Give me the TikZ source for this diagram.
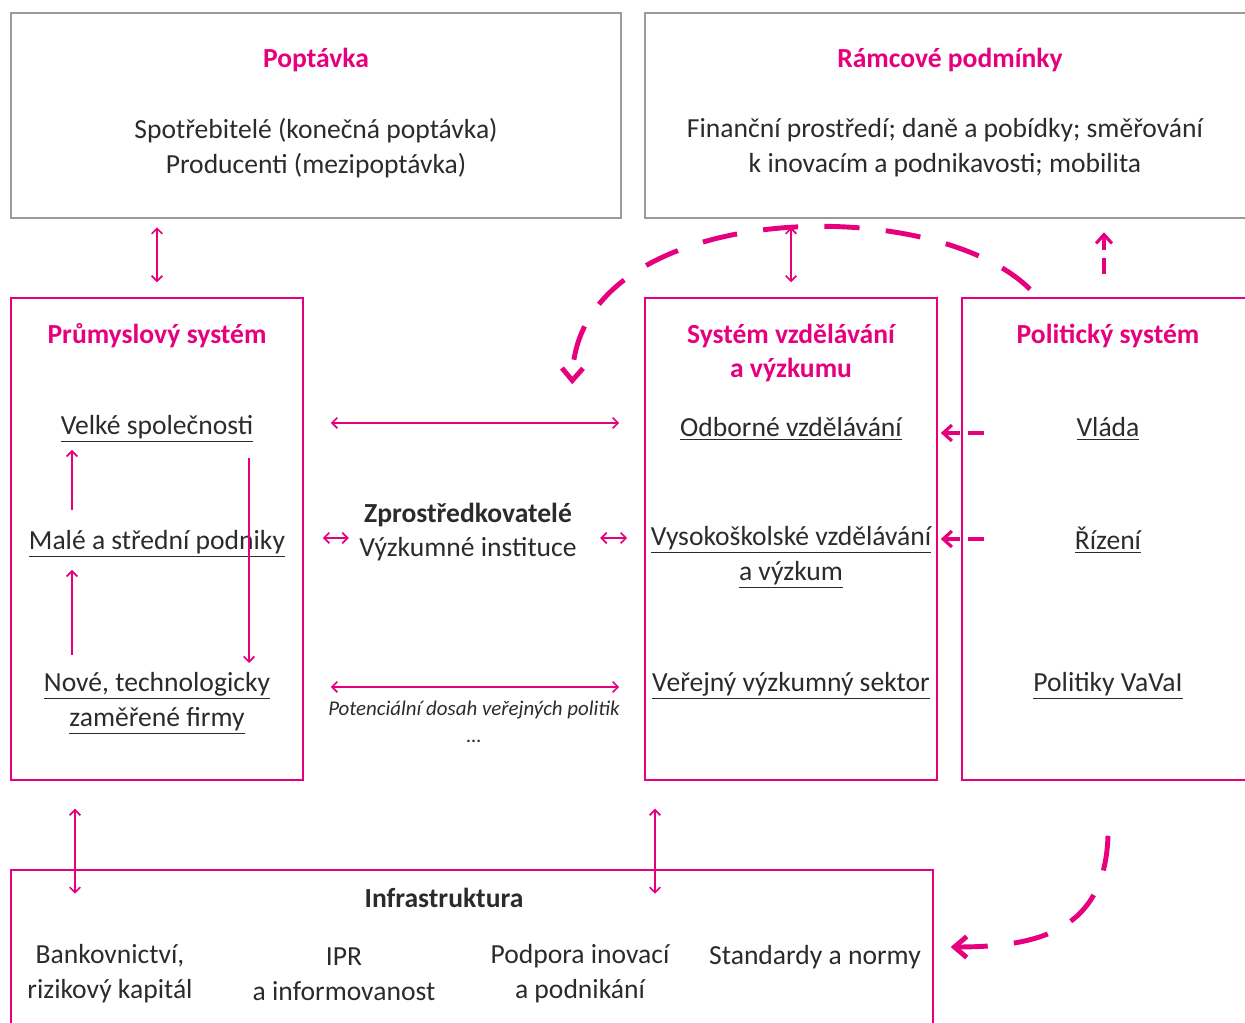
\documentclass[tikz,border=0pt]{standalone}
\usepackage{fontspec}
\setmainfont{Carlito}
\usetikzlibrary{positioning}
\usetikzlibrary{calc}
\usetikzlibrary{arrows.meta}
\definecolor{vvpink}{HTML}{E6007E}
\definecolor{boxgray}{HTML}{9A9A9A}
\definecolor{txtgray}{HTML}{2B2B2B}
\tikzset{
	every node/.style={align=center,inner sep=0pt,text=txtgray,font=\fontsize{15.7}{19.85}\selectfont},
	graybox/.style={draw=boxgray,line width=1.2pt,minimum width=12.2cm,minimum height=4.1cm},
	pinkbox/.style={draw=vvpink,line width=0.9pt,minimum width=5.84cm,minimum height=9.64cm},
	boxtitle/.style={text=vvpink,font=\fontsize{15.7}{19.85}\selectfont\bfseries},
	biarrow/.style={draw=vvpink,line width=1pt,{Straight Barb[length=3pt,width=6pt]}-{Straight Barb[length=3pt,width=6pt]}},
	onearrow/.style={draw=vvpink,line width=1pt,-{Straight Barb[length=3pt,width=6pt]}},
	bigdash/.style={draw=vvpink,line width=2.8pt,dash pattern=on 20pt off 15pt,-{Straight Barb[length=7pt,width=12pt]}},
	shortdash/.style={draw=vvpink,line width=1.8pt,dash pattern=on 9pt off 5pt,-{Straight Barb[length=5pt,width=9pt]}},
}

\begin{document}
\begin{tikzpicture}[x=0.02cm,y=-0.02cm]
	\useasboundingbox (0,0) rectangle (1245,1023);

	%top boxes.....................
	\node [graybox] (poptavka) at (316,115.5) {};
	\node [graybox,minimum width=12.3cm] (ramcove) at (952.5,115.5) {};
	\node [boxtitle] (poptavkatitle) at (316,60) {Poptávka};
	\node (poptavkatext) at (316,148) {Spotřebitelé (konečná poptávka)\\Producenti (mezipoptávka)};
	\node [boxtitle] (ramcovetitle) at (950,60) {Rámcové podmínky};
	\node (ramcovetext) at (945,148) {Finanční prostředí; daně a pobídky; směřování\\k inovacím a podnikavosti; mobilita};

	%systems.....................
	\node [pinkbox] (prumysl) at (157,539) {};
	\node [pinkbox] (vzdel) at (791,539) {};
	\node [pinkbox] (polit) at (1108,539) {};

	% industry
	\node [boxtitle] (prumysltitle) at (157,336) {Průmyslový systém};
	\node (velke) at (157,429) {\underline{Velké společnosti}};
	\node (male) at (157,544) {\underline{Malé a střední podniky}};
	\node (nove) at (157,703) {\underline{Nové, technologicky}\\\underline{zaměřené firmy}};

	% education and research
	\node [boxtitle] (vzdeltitle) at (791,353) {Systém vzdělávání\\a výzkumu};
	\node (odborne) at (791,429) {\underline{Odborné vzdělávání}};
	\node (vysoko) at (791,557) {\underline{Vysokoškolské vzdělávání}\\\underline{a výzkum}};
	\node (verejny) at (791,686) {\underline{Veřejný výzkumný sektor}};

	% politics
	\node [boxtitle] (polittitle) at (1108,336) {Politický systém};
	\node (vlada) at (1108,429) {\underline{Vláda}};
	\node (rizeni) at (1108,540) {\underline{Řízení}};
	\node (politiky) at (1108,686) {\underline{Politiky VaVaI}};

	% middle.....................
	\node (zprostr) at (468,532) {\textbf{Zprostředkovatelé}\\Výzkumné instituce};
	\node [font=\fontsize{11.9}{15.3}\selectfont\itshape] (dosah) at (474,722) {Potenciální dosah veřejných politik\\\ldots};

	% infrastructure.....................
	\node [draw=vvpink,line width=0.9pt,minimum width=18.44cm,minimum height=3.4cm] (infra) at (472,955) {};
	\node [font=\fontsize{15.7}{19.85}\selectfont\bfseries] (infratitle) at (444,898) {Infrastruktura};
	\node (bank) at (110,974) {Bankovnictví,\\rizikový kapitál};
	\node (ipr) at (344,974) {IPR\\a informovanost};
	\node (podpora) at (580,974) {Podpora inovací\\a podnikání};
	\node (standardy) at (815,957) {Standardy a normy};

	% thin arrows.....................
	\draw [biarrow] ($(prumysl.north)+(0,-70)$) to ($(prumysl.north)+(0,-15)$);
	\draw [biarrow] ($(vzdel.north)+(0,-70)$) to ($(vzdel.north)+(0,-15)$);
	\draw [biarrow] ($(prumysl.east |- velke)+(27,-6)$) to ($(vzdel.west |- odborne)+(-25,-6)$);
	\draw [biarrow] ($(prumysl.east)+(19,-1)$) to ($(prumysl.east)+(45,-1)$);
	\draw [biarrow] ($(vzdel.west)+(-44,-1)$) to ($(vzdel.west)+(-17,-1)$);
	\draw [biarrow] ($(prumysl.east)+(27,148)$) to ($(vzdel.west)+(-25,148)$);
	\draw [biarrow] ($(prumysl.south)+(-82,28)$) to ($(prumysl.south)+(-82,113)$);
	\draw [biarrow] ($(vzdel.south)+(-136,28)$) to ($(vzdel.south)+(-136,113)$);

	% arrows inside industry box
	\draw [onearrow] ($(prumysl.center)+(-85,-29)$) to ($(prumysl.center)+(-85,-89)$);
	\draw [onearrow] ($(prumysl.center)+(-85,116)$) to ($(prumysl.center)+(-85,31)$);
	\draw [onearrow] ($(prumysl.center)+(92,-81)$) to ($(prumysl.center)+(92,124)$);

	% dashed arrows.....................
	\draw [shortdash] ($(polit.west)+(23,-106)$) to ($(vzdel.east)+(3,-106)$);
	\draw [shortdash] ($(polit.west)+(23,0)$) to ($(vzdel.east)+(3,0)$);
	\draw [shortdash] ($(polit.north)+(-4,-23)$) to ($(polit.north)+(-4,-65)$);
	\draw [bigdash] ($(polit.north)+(-78,-8)$) .. controls (930,190) and (575,200) .. ($(vzdel.north west)+(-72,87)$);
	\draw [bigdash] ($(polit.south)+(0,55)$) .. controls (1105,930) and (1040,947) .. ($(infra.east)+(17,-8)$);

\end{tikzpicture}
\end{document}
